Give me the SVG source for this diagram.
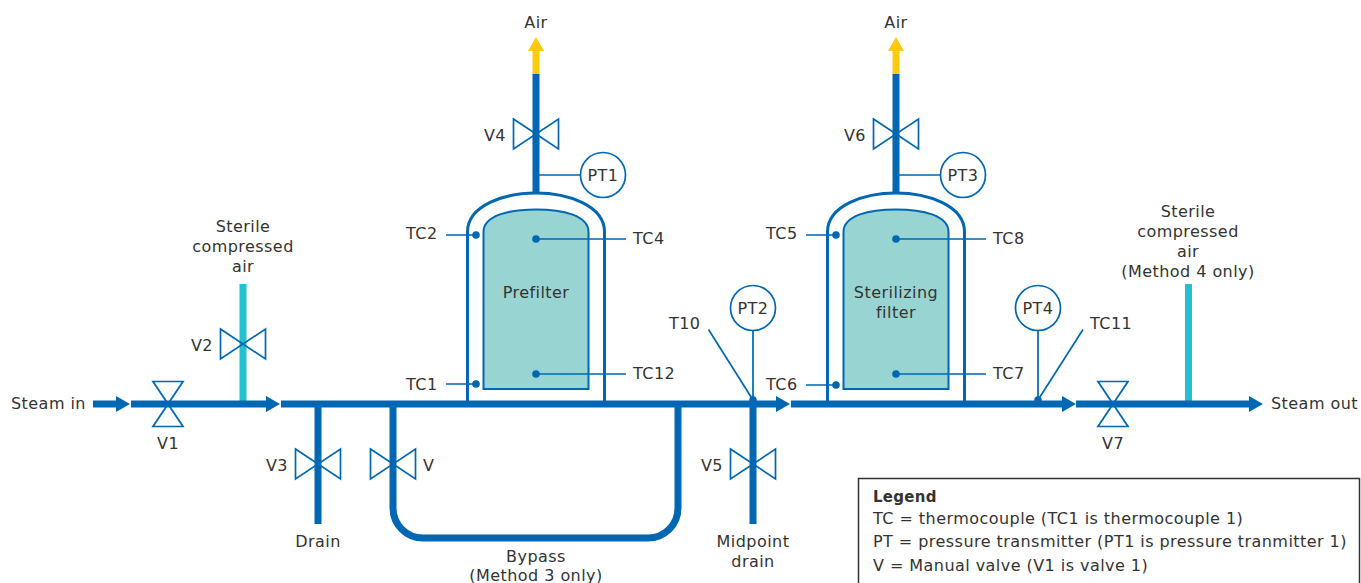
<svg xmlns="http://www.w3.org/2000/svg" width="1361" height="583" viewBox="0 0 1361 583">
<style>
text{font-family:"DejaVu Sans",Verdana,sans-serif;font-size:16px;letter-spacing:.45px;fill:#333}
.m{text-anchor:middle}.e{text-anchor:end}
.pipe{fill:none;stroke:#0067b3;stroke-width:7}
.air{stroke:#22c0d0;stroke-width:7;fill:none}
.thin{fill:none;stroke:#0067b3;stroke-width:1.700}
.valve{fill:none;stroke:#0067b3;stroke-width:1.700;stroke-linejoin:miter}
.head{fill:#0067b3}
.dot{fill:#0067b3}
.circ{fill:#fff;stroke:#0067b3;stroke-width:1.700}
.outer{fill:none;stroke:#0067b3;stroke-width:3}
.inner{fill:#98d5d2;stroke:#0067b3;stroke-width:2}
</style>
<defs>
<path id="vv" class="valve" d="M-22.5-15L22.5 15V-15L-22.5 15Z"/>
<path id="vh" class="valve" d="M-15-22.5H15L-15 22.5H15Z"/>
</defs>
<g id="connectors">
<path class="air" d="M243 284V401M1188.500 284V401"/>
<path class="pipe" d="M93 404H117M131 404H267M281 404H777M791 404H1063M1076 404H1250"/>
<path class="head" d="M116 396L130 404L116 412ZM266 396L280 404L266 412ZM776 396L790 404L776 412ZM1062 396L1076 404L1062 412ZM1249 396L1263 404L1249 412Z"/>
<path class="pipe" d="M318 404V524M753 404V524M393 404V508A30 30 0 0 0 423 538H648A30 30 0 0 0 678 508V404"/>
<path class="pipe" d="M536 74V192M896 74V192"/>
<path d="M536 74V50M896 74V50" fill="none" stroke="#ffc90e" stroke-width="7"/>
<path d="M536 37L544 51H528ZM896 37L904 51H888Z" fill="#ffc90e"/>
<path class="thin" d="M539 175H581M899 175H941M753 330V404M708.500 329.500L753 400M1038 330V404M1083 329.500L1038 400"/>
<circle class="dot" cx="753" cy="400" r="3.800"/>
<circle class="dot" cx="1038" cy="400" r="3.800"/>
</g>
<g id="valve-v1"><use href="#vh" x="168" y="404"/><text class="m" x="168" y="449">V1</text></g>
<g id="valve-v2"><use href="#vv" x="243" y="344"/><text class="e" x="213" y="351">V2</text></g>
<g id="valve-v3"><use href="#vv" x="318" y="464"/><text class="e" x="288" y="471">V3</text></g>
<g id="valve-v"><use href="#vv" x="393" y="464"/><text x="423" y="471">V</text></g>
<g id="valve-v4"><use href="#vv" x="536" y="134"/><text class="e" x="506" y="141">V4</text></g>
<g id="valve-v5"><use href="#vv" x="753" y="464"/><text class="e" x="723" y="471">V5</text></g>
<g id="valve-v6"><use href="#vv" x="896" y="134"/><text class="e" x="866" y="141">V6</text></g>
<g id="valve-v7"><use href="#vh" x="1113" y="404"/><text class="m" x="1113" y="449">V7</text></g>
<g id="pt1"><circle class="circ" cx="603" cy="175" r="22.500"/><text class="m" x="603" y="181">PT1</text></g>
<g id="pt2"><circle class="circ" cx="753" cy="308" r="22.500"/><text class="m" x="753" y="314">PT2</text></g>
<g id="pt3"><circle class="circ" cx="963" cy="175" r="22.500"/><text class="m" x="963" y="181">PT3</text></g>
<g id="pt4"><circle class="circ" cx="1038" cy="308" r="22.500"/><text class="m" x="1038" y="314">PT4</text></g>
<g id="prefilter">
<path class="outer" d="M467.500 404V232C467.500 205 505 193 536 193S604.500 205 604.500 232V404"/>
<path class="inner" d="M483.500 389V232C483.500 215 510 209.500 536 209.500S588.500 215 588.500 232V389Z"/>
<text class="m" x="536" y="298">Prefilter</text>
<path class="thin" d="M446 235H476M446 384H476M536 239H626M536 374H626"/>
<circle class="dot" cx="476" cy="235" r="3.800"/><circle class="dot" cx="476" cy="384" r="3.800"/>
<circle class="dot" cx="536" cy="239" r="3.800"/><circle class="dot" cx="536" cy="374" r="3.800"/>
</g>
<g id="sterilizing-filter">
<path class="outer" d="M827.500 404V232C827.500 205 865 193 896 193S964.500 205 964.500 232V404"/>
<path class="inner" d="M843.500 389V232C843.500 215 870 209.500 896 209.500S948.500 215 948.500 232V389Z"/>
<text class="m" x="896" y="298">Sterilizing</text><text class="m" x="896" y="318">filter</text>
<path class="thin" d="M806 235H836M806 385H836M896 239H986M896 374H986"/>
<circle class="dot" cx="836" cy="235" r="3.800"/><circle class="dot" cx="836" cy="385" r="3.800"/>
<circle class="dot" cx="896" cy="239" r="3.800"/><circle class="dot" cx="896" cy="374" r="3.800"/>
</g>
<g id="labels">
<text x="11" y="409">Steam in</text>
<text x="1271" y="409">Steam out</text>
<text class="m" x="243" y="232">Sterile</text><text class="m" x="243" y="252">compressed</text><text class="m" x="243" y="272">air</text>
<text class="m" x="1188" y="217">Sterile</text><text class="m" x="1188" y="237">compressed</text><text class="m" x="1188" y="257">air</text><text class="m" x="1188" y="277">(Method 4 only)</text>
<text class="m" x="536" y="28">Air</text><text class="m" x="896" y="28">Air</text>
<text class="m" x="318" y="547">Drain</text>
<text class="m" x="536" y="562">Bypass</text><text class="m" x="536" y="581">(Method 3 only)</text>
<text class="m" x="753" y="547">Midpoint</text><text class="m" x="753" y="567">drain</text>
<text x="406" y="239">TC2</text><text x="406" y="390">TC1</text>
<text x="633" y="244">TC4</text><text x="633" y="379">TC12</text>
<text x="766" y="239">TC5</text><text x="766" y="390">TC6</text>
<text x="993" y="244">TC8</text><text x="993" y="379">TC7</text>
<text x="669" y="329">T10</text><text x="1090" y="329">TC11</text>
</g>
<g id="legend">
<rect x="858.500" y="478.500" width="501" height="120" fill="#fff" stroke="#333" stroke-width="1.500"/>
<text x="873" y="502" font-weight="700" style="font-size:15px;letter-spacing:.3px">Legend</text>
<text x="873" y="524">TC = thermocouple (TC1 is thermocouple 1)</text>
<text x="873" y="547">PT = pressure transmitter (PT1 is pressure tranmitter 1)</text>
<text x="873" y="571">V = Manual valve (V1 is valve 1)</text>
</g>
</svg>
